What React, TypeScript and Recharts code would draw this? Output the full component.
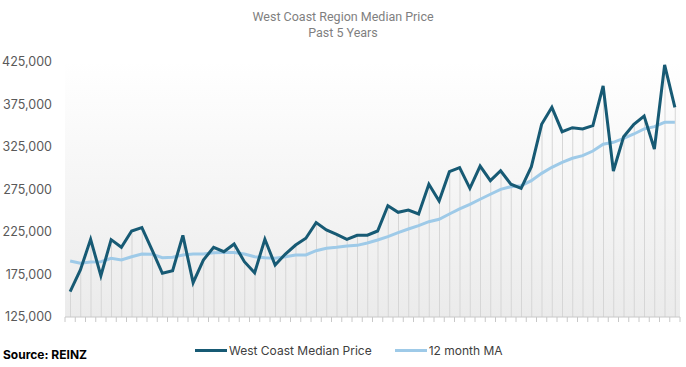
import React from "react";
import {
  ComposedChart,
  Line,
  Bar,
  XAxis,
  YAxis,
  CartesianGrid,
  Legend,
} from "recharts";

const months: string[] = Array.from({ length: 60 }, (_, i) => `M${i + 1}`);

const medianPrice: number[] = [
  154800, 180300, 216400, 173600, 216000, 207000, 226200, 230100, 203800, 176400,
  179500, 221100, 165400, 192000, 207000, 201800, 210900, 190100, 177100, 216400,
  186200, 199100, 209700, 217600, 236000, 227400, 222300, 216400, 221100, 221300,
  226200, 256000, 248200, 250900, 246200, 281100, 261500, 296000, 300700, 276400,
  302600, 285400, 297100, 281300, 276400, 301800, 351700, 371700, 343000, 347700,
  346200, 350100, 396800, 296800, 337100, 351700, 361500, 322600, 421500, 371700,
];

const movingAvg: number[] = [
  190900, 188200, 189700, 190100, 194000, 192000, 195900, 199100, 198700, 194800,
  195200, 198000, 199100, 199100, 200700, 201000, 201000, 199100, 195900, 194800,
  194000, 195900, 198000, 198000, 203000, 205800, 207000, 208500, 209300, 212000,
  215600, 219500, 224200, 228500, 232400, 237100, 239900, 246200, 252100, 257600,
  263500, 269400, 275200, 278300, 279500, 285400, 294000, 301100, 307000, 311700,
  314800, 320300, 328200, 330500, 335200, 340300, 346200, 348900, 354000, 354000,
];

const yTicks: number[] = [125000, 175000, 225000, 275000, 325000, 375000, 425000];

const seriesNames = { price: "West Coast Median Price", ma: "12 month MA" };
const legendOrder: string[] = [seriesNames.price, seriesNames.ma];

const data = months.map((m, i) => ({
  month: m,
  price: medianPrice[i],
  ma: movingAvg[i],
}));

const CHART_W = 686;
const CHART_H = 367;
const MARGIN = { top: 62, right: 6, left: 0, bottom: 20 };
const Y_AXIS_W = 65;
const PLOT_W = CHART_W - MARGIN.left - MARGIN.right - Y_AXIS_W;
const BAND = PLOT_W / months.length;

const DARK = "#175a74";
const LIGHT = "#9ecae8";
const FONT = "Inter, 'Open Sans', sans-serif";

const XTick = (props: any) => {
  const { x, y, index } = props;
  const left = x - BAND / 2;
  const right = x + BAND / 2;
  return (
    <g>
      <line x1={left} y1={y} x2={left} y2={y + 5} stroke="#c8c8c8" strokeWidth={1} />
      {index === months.length - 1 && (
        <line x1={right} y1={y} x2={right} y2={y + 5} stroke="#c8c8c8" strokeWidth={1} />
      )}
    </g>
  );
};

const renderLegend = (props: any) => {
  const items = (props.payload || [])
    .filter((p: any) => p.type !== "none" && legendOrder.includes(p.value))
    .slice()
    .sort((a: any, b: any) => legendOrder.indexOf(a.value) - legendOrder.indexOf(b.value));
  return (
    <div
      style={{
        display: "flex",
        alignItems: "center",
        height: 20,
        fontFamily: FONT,
        fontSize: 12,
        color: "#404040",
        whiteSpace: "nowrap",
      }}
    >
      {items.map((p: any, i: number) => (
        <div key={i} style={{ display: "flex", alignItems: "center", marginRight: 23 }}>
          <div style={{ width: 32, height: 3, background: p.color, marginRight: 2 }} />
          <span>{p.value}</span>
        </div>
      ))}
    </div>
  );
};

export default function App() {
  return (
    <div
      style={{
        position: "absolute",
        left: 0,
        top: 0,
        width: CHART_W,
        height: CHART_H,
        background: "#ffffff",
        overflow: "hidden",
      }}
    >
      <svg width={0} height={0} style={{ position: "absolute" }}>
        <defs>
          <linearGradient id="plotBg" x1="0" y1="0" x2="0" y2="1">
            <stop offset="0" stopColor="#ffffff" />
            <stop offset="1" stopColor="#ebebeb" />
          </linearGradient>
        </defs>
      </svg>
      <div
        style={{
          position: "absolute",
          top: 9,
          left: 0,
          width: CHART_W,
          textAlign: "center",
          fontFamily: "Roboto, sans-serif",
          fontSize: 12.5,
          lineHeight: "16px",
          color: "#7f7f7f",
          zIndex: 2,
        }}
      >
        <div>West Coast Region Median Price</div>
        <div>Past 5 Years</div>
      </div>
      <ComposedChart width={CHART_W} height={CHART_H} data={data} margin={MARGIN}>
        <CartesianGrid horizontal={false} vertical={false} fill="url(#plotBg)" />
        <XAxis
          dataKey="month"
          interval={0}
          height={10}
          tickLine={false}
          tickSize={0}
          tickMargin={0}
          axisLine={{ stroke: "#c8c8c8" }}
          tick={<XTick />}
        />
        <YAxis
          width={Y_AXIS_W}
          domain={[125000, 425000]}
          ticks={yTicks}
          allowDataOverflow
          axisLine={false}
          tickLine={false}
          tickSize={6}
          tickMargin={7}
          tick={{ fill: "#595959", fontSize: 12.5, fontFamily: FONT }}
          tickFormatter={(v: number) => v.toLocaleString("en-US")}
        />
        <Bar
          dataKey="price"
          barSize={1}
          fill="#d6d6d6"
          legendType="none"
          isAnimationActive={false}
        />
        <Line
          type="linear"
          dataKey="ma"
          name={seriesNames.ma}
          stroke={LIGHT}
          strokeWidth={3}
          dot={false}
          activeDot={false}
          isAnimationActive={false}
        />
        <Line
          type="linear"
          dataKey="price"
          name={seriesNames.price}
          stroke={DARK}
          strokeWidth={3}
          dot={false}
          activeDot={false}
          isAnimationActive={false}
        />
        <Legend
          verticalAlign="bottom"
          content={renderLegend}
          wrapperStyle={{ left: 195, width: "auto", bottom: 7 }}
        />
      </ComposedChart>
      <div
        style={{
          position: "absolute",
          left: 3,
          top: 347,
          fontFamily: FONT,
          fontWeight: 700,
          fontSize: 12,
          color: "#000000",
        }}
      >
        Source: REINZ
      </div>
    </div>
  );
}
